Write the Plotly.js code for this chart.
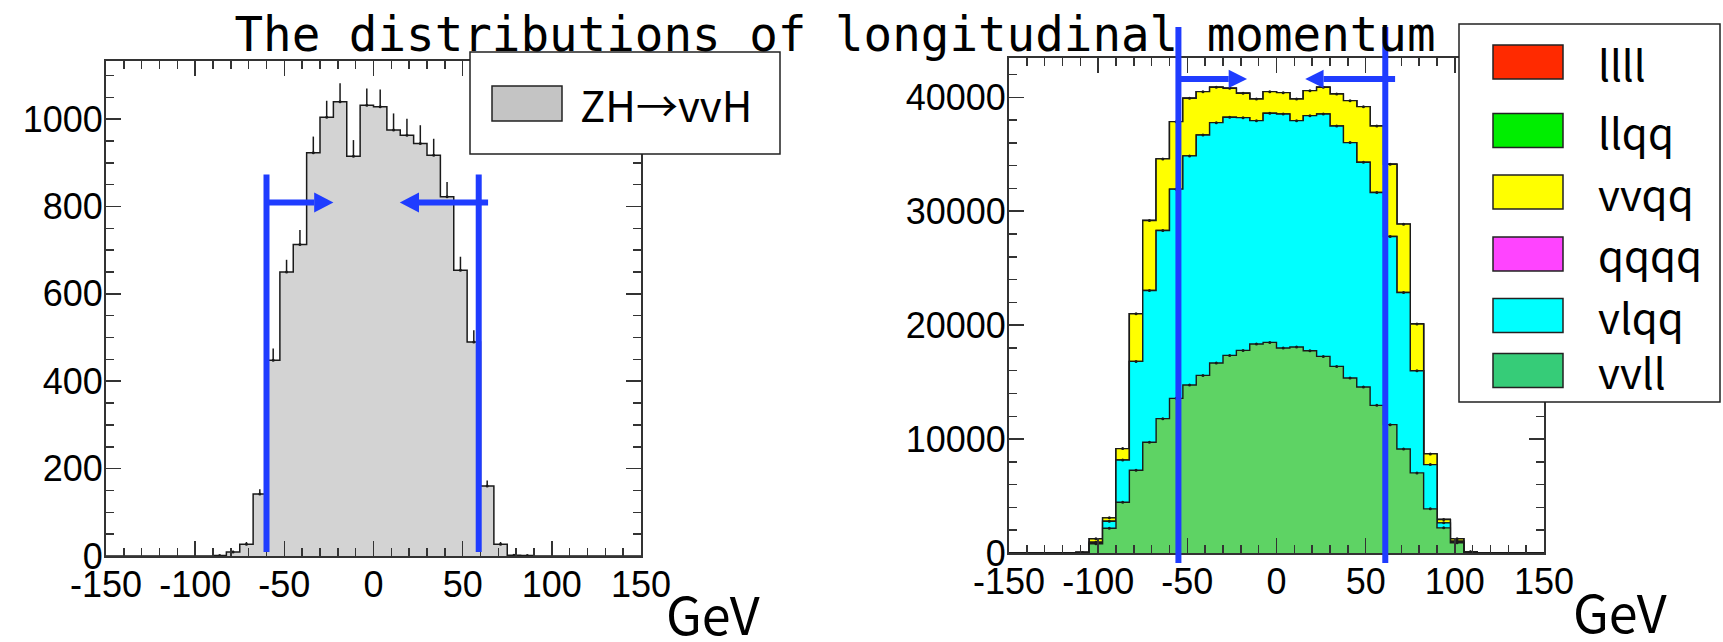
<!DOCTYPE html>
<html>
<head>
<meta charset="utf-8">
<script src="https://cdn.plot.ly/plotly-3.0.1.min.js"></script>
<style>
  html, body { margin: 0; padding: 0; background: #ffffff; }
  #chart { width: 1723px; height: 642px; }
</style>
</head>
<body>
<div id="chart"></div>
<script>
// Binning shared by both panels: 40 bins of 7.5 GeV between -150 and 150 GeV
const binLow = -150;
const binWidth = 7.5;
const nBins = 40;

// Axis ticks
const xTickVals = [-150, -100, -50, 0, 50, 100, 150];
const xTickText = ['-150', '-100', '-50', '0', '50', '100', '150'];
const leftYTickVals = [0, 200, 400, 600, 800, 1000];
const leftYTickText = ['0', '200', '400', '600', '800', '1000'];
const rightYTickVals = [0, 10000, 20000, 30000, 40000];
const rightYTickText = ['0', '10000', '20000', '30000', '40000'];

// Signal: ZH -> vvH, events per bin and upper error
const zhCounts = [0, 0, 0, 0, 0, 0, 0, 0, 1, 9, 27, 142, 448, 650, 713, 923, 1004, 1040, 915, 1032,
                  1028, 975, 963, 944, 917, 822, 654, 490, 160, 27, 2, 1, 0, 0, 0, 0, 0, 0, 0, 0];
const zhErrors = [0, 0, 0, 0, 0, 0, 0, 0, 1, 3, 5, 11, 27, 28, 33, 37, 38, 42, 37, 38,
                  40, 38, 38, 42, 38, 34, 31, 27, 13, 5, 2, 1, 0, 0, 0, 0, 0, 0, 0, 0];

// Backgrounds, events per bin (stacked from vvll upwards)
const vvll = [0, 0, 0, 0, 0, 40, 807, 2175, 4455, 7260, 9715, 11793, 13573, 14748, 15590, 16676, 17343, 17782, 18343, 18484,
              17992, 18080, 17755, 17255, 16378, 15361, 14573, 12959, 11267, 9134, 7030, 3873, 2208, 894, 60, 0, 0, 0, 0, 0];
const vlqq = [0, 0, 0, 0, 0, 0, 143, 615, 3706, 9558, 13328, 16510, 18360, 20105, 21104, 21097, 20903, 20428, 19605, 20113,
              20544, 19868, 20631, 21281, 21106, 20659, 19727, 18677, 16511, 13734, 8972, 3887, 440, 141, 20, 0, 0, 0, 0, 0];
const qqqq = [0, 0, 0, 0, 0, 0, 0, 0, 0, 0, 0, 0, 0, 0, 0, 0, 0, 0, 0, 0,
              0, 0, 0, 0, 0, 0, 0, 0, 0, 0, 0, 0, 0, 0, 0, 0, 0, 0, 0, 0];
const vvqq = [0, 0, 0, 0, 0, 0, 295, 293, 1002, 4182, 6138, 6287, 5928, 5059, 3797, 3104, 2543, 2141, 1903, 1894,
              1867, 1903, 2193, 2341, 2806, 3682, 4876, 5848, 6347, 5997, 4094, 938, 289, 210, 20, 0, 0, 0, 0, 0];
const llqq = [0, 0, 0, 0, 0, 0, 0, 0, 0, 0, 0, 0, 0, 0, 0, 0, 0, 0, 0, 0,
              0, 0, 0, 0, 0, 0, 0, 0, 0, 0, 0, 0, 0, 0, 0, 0, 0, 0, 0, 0];
const llll = [0, 0, 0, 0, 0, 0, 0, 0, 0, 0, 0, 0, 0, 0, 0, 0, 0, 0, 0, 0,
              0, 0, 0, 0, 0, 0, 0, 0, 0, 0, 0, 0, 0, 0, 0, 0, 0, 0, 0, 0];

// Cut windows marked on each panel (GeV)
const leftCuts = [-60, 59];
const rightCuts = [-55, 61];

// ---------- helpers ----------
const edges = Array.from({ length: nBins + 1 }, (_, i) => binLow + i * binWidth);
const centers = edges.slice(0, nBins).map(e => e + binWidth / 2);
const stepY = counts => counts.concat([counts[counts.length - 1]]);

const W = 1723, H = 642;
const px = v => v / W;          // horizontal pixel -> paper
const py = v => 1 - v / H;      // vertical pixel -> paper

const ink = '#1a1a1a';
const frame = '#333333';
const cutBlue = '#1f3cff';

const traces = [];

// ---------- left panel: signal ----------
traces.push({
  type: 'scatter', x: edges, y: stepY(zhCounts), xaxis: 'x', yaxis: 'y',
  mode: 'lines', line: { shape: 'hv', color: ink, width: 1.5 },
  fill: 'tozeroy', fillcolor: '#d3d3d3', hoverinfo: 'skip'
});
const zhIdx = zhCounts.map((c, i) => i).filter(i => zhCounts[i] > 0);
traces.push({
  type: 'scatter', x: zhIdx.map(i => centers[i]), y: zhIdx.map(i => zhCounts[i]),
  xaxis: 'x', yaxis: 'y', mode: 'markers',
  marker: { size: 3, color: ink },
  error_y: { type: 'data', symmetric: false, array: zhIdx.map(i => zhErrors[i]),
             arrayminus: zhIdx.map(() => 0), color: ink, thickness: 1.5, width: 0 },
  hoverinfo: 'skip'
});

// ---------- right panel: stacked backgrounds ----------
const layers = [
  { name: 'vvll', counts: vvll, color: '#5ed364' },
  { name: 'vlqq', counts: vlqq, color: '#00ffff' },
  { name: 'qqqq', counts: qqqq, color: '#ff44ff' },
  { name: 'vvqq', counts: vvqq, color: '#ffff00' },
  { name: 'llqq', counts: llqq, color: '#00ee00' },
  { name: 'llll', counts: llll, color: '#ff2a00' }
];
let running = new Array(nBins).fill(0);
layers.forEach(l => {
  running = running.map((v, i) => v + l.counts[i]);
  l.cum = running.slice();
});
// draw the tallest cumulative first so lower layers paint over it
layers.slice().reverse().forEach(l => {
  traces.push({
    type: 'scatter', x: edges, y: stepY(l.cum), xaxis: 'x2', yaxis: 'y2',
    mode: 'lines', line: { shape: 'hv', color: ink, width: 1.4 },
    fill: 'tozeroy', fillcolor: l.color, hoverinfo: 'skip', name: l.name
  });
});
['vvll', 'vlqq', 'vvqq'].forEach(n => {
  const l = layers.find(q => q.name === n);
  const idx = l.cum.map((c, i) => i).filter(i => l.counts[i] > 0);
  traces.push({
    type: 'scatter', x: idx.map(i => centers[i]), y: idx.map(i => l.cum[i]),
    xaxis: 'x2', yaxis: 'y2', mode: 'markers',
    marker: { size: 3, color: ink }, hoverinfo: 'skip'
  });
});

// ---------- axes ----------
const tickFont = { family: 'Liberation Sans, Arial, sans-serif', size: 36, color: '#000' };
function xAxis(domain, anchor) {
  return {
    domain, anchor, range: [-150, 150], tickmode: 'array', tickvals: xTickVals, ticktext: xTickText,
    ticks: 'inside', ticklen: 15, tickwidth: 1.5, tickcolor: frame,
    minor: { tickmode: 'linear', tick0: -150, dtick: 10, ticks: 'inside', ticklen: 8, tickwidth: 1.5, tickcolor: frame },
    showline: true, linecolor: frame, linewidth: 2, mirror: 'ticks',
    showgrid: false, zeroline: false, tickfont: tickFont, ticklabelstandoff: -4, fixedrange: true
  };
}
function yAxis(domain, anchor, range, vals, text, minorStep) {
  return {
    domain, anchor, range, tickmode: 'array', tickvals: vals, ticktext: text,
    ticks: 'inside', ticklen: 15, tickwidth: 1.5, tickcolor: frame,
    minor: { tickmode: 'linear', tick0: 0, dtick: minorStep, ticks: 'inside', ticklen: 8, tickwidth: 1.5, tickcolor: frame },
    showline: true, linecolor: frame, linewidth: 2, mirror: 'ticks',
    showgrid: false, zeroline: false, tickfont: tickFont, ticklabelstandoff: -6, fixedrange: true
  };
}

// ---------- cut markers ----------
const shapes = [];
function cutMarks(xr, yr, cuts, yLow, yHigh, yRefLine, arrowY, headLen, headHalf, leftTip, rightTip, rightStart) {
  cuts.forEach(c => shapes.push({
    type: 'line', xref: xr, yref: yRefLine, x0: c, x1: c, y0: yLow, y1: yHigh,
    line: { color: cutBlue, width: 6 }, layer: 'above'
  }));
  // arrow from the lower cut pointing inwards
  shapes.push({ type: 'line', xref: xr, yref: yr, x0: cuts[0], x1: leftTip - headLen, y0: arrowY, y1: arrowY,
                line: { color: cutBlue, width: 6 }, layer: 'above' });
  shapes.push({ type: 'path', xref: xr, yref: yr, layer: 'above', fillcolor: cutBlue, line: { width: 0 },
                path: `M ${leftTip - headLen},${arrowY + headHalf} L ${leftTip},${arrowY} L ${leftTip - headLen},${arrowY - headHalf} Z` });
  // arrow from the upper cut pointing inwards
  shapes.push({ type: 'line', xref: xr, yref: yr, x0: rightStart, x1: rightTip + headLen, y0: arrowY, y1: arrowY,
                line: { color: cutBlue, width: 6 }, layer: 'above' });
  shapes.push({ type: 'path', xref: xr, yref: yr, layer: 'above', fillcolor: cutBlue, line: { width: 0 },
                path: `M ${rightTip + headLen},${arrowY + headHalf} L ${rightTip},${arrowY} L ${rightTip + headLen},${arrowY - headHalf} Z` });
}
cutMarks('x', 'y', leftCuts, 9, 873, 'y', 809, 10.75, 23, -22.5, 14.75, 64.25);
cutMarks('x2', 'y2', rightCuts, py(563), py(27), 'paper', 41605, 10.3, 800, -16.5, 16.1, 66.5);

// ---------- legends ----------
const annotations = [];
const legFont = { family: 'Noto Sans CJK JP, Noto Sans, sans-serif', size: 42, color: '#000' };
function box(x0, y0, x1, y1, fill, w) {
  shapes.push({ type: 'rect', xref: 'paper', yref: 'paper', x0: px(x0), x1: px(x1), y0: py(y1), y1: py(y0),
                fillcolor: fill, line: { color: '#222', width: w }, layer: 'above' });
}
function legendRow(sx0, sx1, cy, half, fill, label, tx) {
  box(sx0, cy - half, sx1, cy + half, fill, 1.5);
  annotations.push({ xref: 'paper', yref: 'paper', x: px(tx), y: py(cy), xanchor: 'left', yanchor: 'middle',
                     text: label, showarrow: false, font: legFont });
}
box(470, 52, 780, 154, '#ffffff', 1.5);
legendRow(492, 562, 103.5, 17.5, '#c4c4c4', 'ZH→vvH', 578);

box(1459, 24, 1720, 402, '#ffffff', 1.5);
const legendEntries = [
  { label: 'llll', color: '#ff2a00', cy: 62 },
  { label: 'llqq', color: '#00ee00', cy: 130.5 },
  { label: 'vvqq', color: '#ffff00', cy: 192 },
  { label: 'qqqq', color: '#ff44ff', cy: 254 },
  { label: 'vlqq', color: '#00ffff', cy: 315.5 },
  { label: 'vvll', color: '#36cc78', cy: 370.5 }
];
legendEntries.forEach(e => legendRow(1493, 1563, e.cy, 17, e.color, e.label, 1596));

// axis unit labels
const unitFont = { family: 'Noto Sans CJK JP, Noto Sans, sans-serif', size: 52, color: '#000' };
annotations.push({ xref: 'paper', yref: 'paper', x: px(664), y: py(612), xanchor: 'left', yanchor: 'middle',
                   text: 'GeV', showarrow: false, font: unitFont });
annotations.push({ xref: 'paper', yref: 'paper', x: px(1571), y: py(610), xanchor: 'left', yanchor: 'middle',
                   text: 'GeV', showarrow: false, font: unitFont });

const layout = {
  width: W, height: H,
  margin: { l: 0, r: 0, t: 0, b: 0 },
  paper_bgcolor: '#ffffff', plot_bgcolor: '#ffffff',
  showlegend: false,
  title: {
    text: 'The distributions of longitudinal momentum',
    font: { family: 'DejaVu Sans Mono, monospace', size: 47.5, color: '#000' },
    x: 835 / W, xanchor: 'center', xref: 'paper', y: py(34.5), yanchor: 'middle', yref: 'container'
  },
  xaxis: xAxis([px(106), px(641)], 'y'),
  yaxis: yAxis([py(556), py(61)], 'x', [0, 1133], leftYTickVals, leftYTickText, 50),
  xaxis2: xAxis([px(1009), px(1544)], 'y2'),
  yaxis2: yAxis([py(553), py(58)], 'x2', [0, 43446], rightYTickVals, rightYTickText, 2000),
  shapes, annotations
};

Plotly.newPlot('chart', traces, layout, { displayModeBar: false, staticPlot: true });
</script>
</body>
</html>
